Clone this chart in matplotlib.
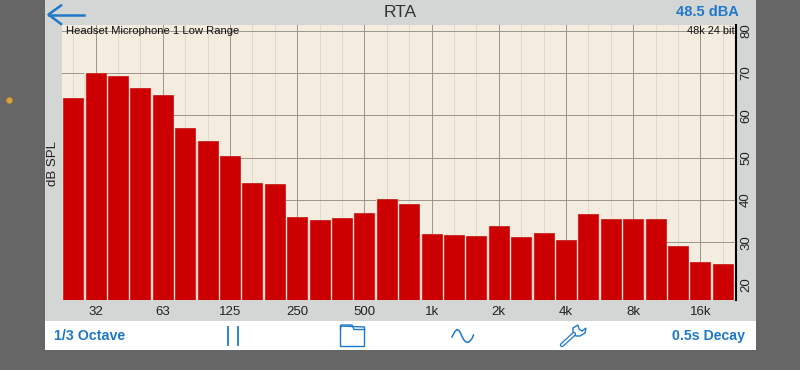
import matplotlib
matplotlib.use("Agg")
import matplotlib.pyplot as plt
from matplotlib.patches import Rectangle, Polygon
import numpy as np

plt.rcParams['font.family'] = ['Liberation Sans', 'DejaVu Sans']

levels = [64.2, 69.9, 69.3, 66.4, 64.7, 57.0, 53.9, 50.5, 44.1, 43.8,
          35.9, 35.3, 35.8, 37.0, 40.1, 39.0, 32.0, 31.6, 31.5, 33.8,
          31.2, 32.2, 30.5, 36.7, 35.6, 35.6, 35.5, 29.1, 25.3, 24.8]
freq_labels = ['32', '63', '125', '250', '500', '1k', '2k', '4k', '8k', '16k']
freq_pos = [1, 4, 7, 10, 13, 16, 19, 22, 25, 28]
db_ticks = [20, 30, 40, 50, 60, 70, 80]

W = 800
H = 370
BLUE = '#1f78c8'

fig = plt.figure(figsize=(8, 3.7), dpi=100, facecolor='#666666')

# app chrome is drawn in pixel coords on a background axes
ui = fig.add_axes([0, 0, 1, 1], zorder=0)
ui.set_xlim(0, W)
ui.set_ylim(H, 0)
ui.axis('off')
ui.add_patch(Rectangle((44.5, 0), 711, 321, fc='#d4d6d6', ec='none'))
ui.add_patch(Rectangle((44.5, 321), 711, 29, fc='white', ec='none'))
ui.plot([8.5], [99.5], 'o', color='#e0a030', ms=3.5)

# back arrow
ui.plot([49, 84], [14.5, 14.5], color=BLUE, lw=1.8)
ui.plot([61, 48.5, 61], [5.5, 14.5, 24], color=BLUE, lw=1.8)

ui.text(400, 12.5, 'RTA', ha='center', va='center', fontsize=12.5, color='#333333')
ui.text(739, 12.5, '48.5 dBA', ha='right', va='center', fontsize=10.5,
        color=BLUE, fontweight='bold')
ui.text(53, 163, 'dB SPL', ha='center', va='center', rotation=90, fontsize=9.5,
        color='#222222')
ui.text(54.5, 336, '1/3 Octave', ha='left', va='center', fontsize=10.3,
        color=BLUE, fontweight='bold')
ui.text(745, 336, '0.5s Decay', ha='right', va='center', fontsize=10.2,
        color=BLUE, fontweight='bold')

# pause
ui.plot([227.5, 227.5], [327, 345], color=BLUE, lw=1.3)
ui.plot([237.5, 237.5], [327, 345], color=BLUE, lw=1.3)

# folder
ui.plot([340.5, 340.5, 364.5, 364.5, 340.5], [326, 346.5, 346.5, 327, 326], color=BLUE, lw=1)
ui.plot([340.5, 341, 352, 354, 364.5], [329, 325, 325, 329.5, 329.5], color=BLUE, lw=1)

# wave icon
wave_x = [452, 453.5, 455, 457, 459, 460.5, 462, 464, 466, 468, 470, 472, 473.5]
wave_y = [337, 334, 331.5, 329.5, 330.5, 333, 336.5, 340, 342, 342.5, 341, 338.5, 335]
ui.plot(wave_x, wave_y, color=BLUE, lw=1.1)

# wrench
ui.plot([562, 574], [345, 334], color=BLUE, lw=3.2, solid_capstyle='round')
ui.plot([562, 574], [345, 334], color='white', lw=1.4, solid_capstyle='round')
ui.add_patch(Polygon([[573, 334], [573, 328], [578, 325], [579, 329], [582, 331],
                      [586, 328], [585, 333], [580, 336], [576, 336]],
                     fc='white', ec=BLUE, lw=1))

# plot area
ax = fig.add_axes([62 / W, 1 - 300 / H, 674 / W, 275.5 / H], zorder=1)
ax.set_facecolor('#f3ecdf')
ax.set_xlim(-0.5, 29.59)
ax.set_ylim(16.34, 81.47)

x = np.arange(len(levels))
for i in x:
    ax.axvline(i, color='#dfdacd', lw=0.7, zorder=1)
for f in freq_pos:
    ax.axvline(f, color='#9a968c', lw=0.7, zorder=2)
for d in db_ticks:
    ax.axhline(d, color='#9a968c', lw=0.7, zorder=2)

# pale strip behind the bars makes the gaps between them
ax.bar(x, levels, width=1.0, color='#f8d8d0', linewidth=0, zorder=3)
ax.bar(x, levels, width=0.9, color='#cc0000', edgecolor='#b80000',
       linewidth=0.4, zorder=4)

ax.set_xticks(freq_pos)
ax.set_xticklabels(freq_labels, fontsize=9.5, color='#222222')
ax.tick_params(axis='x', length=0, pad=4)
ax.yaxis.tick_right()
ax.set_yticks(db_ticks)
ax.set_yticklabels([str(d) for d in db_ticks], rotation=90, va='center', fontsize=9.5,
                   color='#222222')
ax.tick_params(axis='y', length=0, pad=3)
for s in ['top', 'left', 'bottom']:
    ax.spines[s].set_visible(False)
ax.spines['right'].set_linewidth(1.5)
ax.spines['right'].set_color('black')

ax.text(0.006, 0.978, 'Headset Microphone 1 Low Range', transform=ax.transAxes,
        ha='left', va='center', fontsize=8.1, color='#111111', zorder=5)
ax.text(0.9985, 0.978, '48k 24 bit', transform=ax.transAxes,
        ha='right', va='center', fontsize=7.9, color='#111111', zorder=5)

fig.savefig('out.png', dpi=100, facecolor=fig.get_facecolor())
